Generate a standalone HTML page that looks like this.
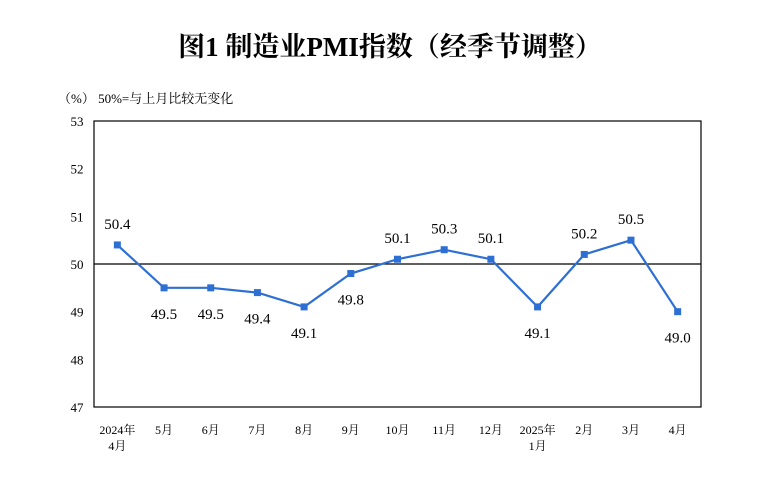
<!DOCTYPE html>
<html><head><meta charset="utf-8"><style>
body{margin:0;background:#fff;width:767px;height:487px;overflow:hidden}
svg text{font-family:"Liberation Serif","Noto Serif CJK SC",serif;fill:#000}
</style></head><body>
<svg id="chart" width="767" height="487" viewBox="0 0 767 487">
<text x="390" y="56" text-anchor="middle" font-size="27" font-weight="bold" style="font-family:'Liberation Serif','Noto Serif CJK SC',serif">图1  制造业PMI指数（经季节调整）</text>
<text x="58" y="103" font-size="13">（%）  50%=与上月比较无变化</text>
<rect x="94" y="121" width="607" height="286" fill="none" stroke="#000" stroke-width="1.2"/>
<g id="yaxis"></g><g id="xaxis"></g><g id="series"></g>
</svg>
<script>
const categories=[["2024年","4月"],["5月"],["6月"],["7月"],["8月"],["9月"],["10月"],["11月"],["12月"],["2025年","1月"],["2月"],["3月"],["4月"]];
const values=[50.4,49.5,49.5,49.4,49.1,49.8,50.1,50.3,50.1,49.1,50.2,50.5,49.0];
const valueLabels=["50.4","49.5","49.5","49.4","49.1","49.8","50.1","50.3","50.1","49.1","50.2","50.5","49.0"];
const yTicks=[47,48,49,50,51,52,53];
const X0=94,X1=701,Y0=407,Y1=121,yMin=47,yMax=53;
const ns="http://www.w3.org/2000/svg";
const bw=(X1-X0)/categories.length;
function xs(i){return X0+bw*(i+0.5);}
function ys(v){return Y0-(v-yMin)/(yMax-yMin)*(Y0-Y1);}
function mk(t,a,p){const e=document.createElementNS(ns,t);for(const k in a)e.setAttribute(k,a[k]);p.appendChild(e);return e;}
const ya=document.getElementById('yaxis'),xa=document.getElementById('xaxis'),se=document.getElementById('series');
yTicks.forEach(v=>{const t=mk('text',{x:77,y:ys(v)+5,'text-anchor':'middle','font-size':'13'},ya);t.textContent=v;

});
const ref=mk('line',{x1:X0,x2:X1,y1:ys(50),y2:ys(50),stroke:'#000','stroke-width':1.2},ya);


categories.forEach((c,i)=>{c.forEach((s,j)=>{const t=mk('text',{x:xs(i),y:434+j*16,'text-anchor':'middle','font-size':'12'},xa);t.textContent=s;

});});
const pts=values.map((v,i)=>xs(i)+','+ys(v)).join(' ');
const pl=mk('polyline',{points:pts,fill:'none',stroke:'#2e6fd3','stroke-width':2.2},se);


values.forEach((v,i)=>{const m=mk('rect',{x:xs(i)-3.5,y:ys(v)-3.5,width:7,height:7,fill:'#2e6fd3'},se);


const above=v>=50.1;const t=mk('text',{x:xs(i),y:above?ys(v)-16:ys(v)+31,'text-anchor':'middle','font-size':'15'},se);t.textContent=valueLabels[i];

});
</script>
</body></html>
